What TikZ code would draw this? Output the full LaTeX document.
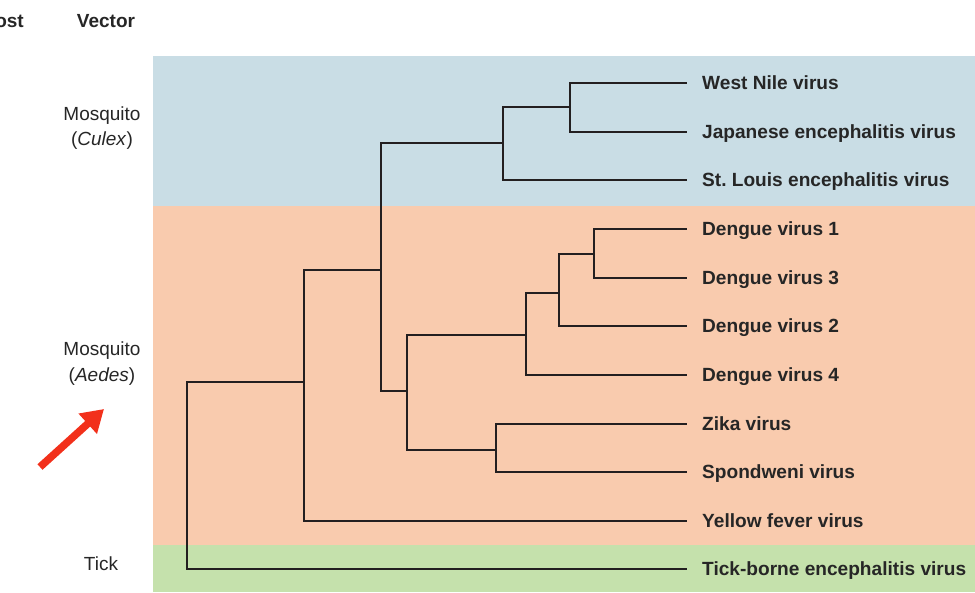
\documentclass[tikz,border=0pt]{standalone}
\usepackage{fontspec}
\setmainfont{Liberation Sans}
\usetikzlibrary{arrows.meta}
\definecolor{bandblue}{HTML}{C9DDE5}
\definecolor{bandorange}{HTML}{F9CBAE}
\definecolor{bandgreen}{HTML}{C5E1AC}
\definecolor{treeline}{HTML}{231F20}
\definecolor{arrowred}{HTML}{F2301B}
\definecolor{labelgray}{HTML}{262626}
\frenchspacing
\begin{document}
\begin{tikzpicture}[x=1pt,y=-1pt,
  leaf/.style={anchor=base west,inner sep=0pt,font=\fontsize{19.1}{21}\selectfont\bfseries,text=labelgray},
  side/.style={anchor=base,inner sep=0pt,font=\fontsize{19}{21}\selectfont,text=labelgray},
  head/.style={inner sep=0pt,font=\fontsize{19}{21}\selectfont\bfseries,text=labelgray},
  branch/.style={draw=treeline,line width=2.7pt,line cap=rect,line join=miter}]
\useasboundingbox (0,0) rectangle (975,592);
\clip (0,0) rectangle (975,592);
% bands
\fill[bandblue] (153,56) rectangle (975,206);
\fill[bandorange] (153,206) rectangle (975,545);
\fill[bandgreen] (153,545) rectangle (975,592);
% headers
\node[head,anchor=base east] (host) at (24,27) {Host};
\node[head,anchor=base] (vector) at (106,27) {Vector};
% side labels
\node[side] (m1) at (102,120) {Mosquito};
\node[side] (c1) at (102,145) {(\textit{Culex})};
\node[side] (m2) at (102,355) {Mosquito};
\node[side] (c2) at (102,381) {(\textit{Aedes})};
\node[side] (tick) at (101,570) {Tick};
% arrow
\coordinate (atail) at (40,467);
\coordinate (ahead) at (104,409);
\draw[arrowred,line width=7.5pt,-{Triangle[length=22pt,width=26pt]}] (atail) -- (ahead);
% leaf ends
\coordinate (wn) at (686,83);
\coordinate (je) at (686,132);
\coordinate (sle) at (686,180);
\coordinate (d1) at (686,229);
\coordinate (d3) at (686,278);
\coordinate (d2) at (686,326);
\coordinate (d4) at (686,375);
\coordinate (zk) at (686,424);
\coordinate (sp) at (686,472);
\coordinate (yf) at (686,521);
\coordinate (tbe) at (686,569);
% leaf labels
\node[leaf] (twn) at (702,89.7) {West Nile virus};
\node[leaf] (tje) at (702,138.7) {Japanese encephalitis virus};
\node[leaf] (tsle) at (702,186.7) {St.\ Louis encephalitis virus};
\node[leaf] (td1) at (702,235.7) {Dengue virus 1};
\node[leaf] (td3) at (702,284.7) {Dengue virus 3};
\node[leaf] (td2) at (702,332.7) {Dengue virus 2};
\node[leaf] (td4) at (702,381.7) {Dengue virus 4};
\node[leaf] (tzk) at (702,430.7) {Zika virus};
\node[leaf] (tsp) at (702,478.7) {Spondweni virus};
\node[leaf] (tyf) at (702,527.7) {Yellow fever virus};
\node[leaf] (ttbe) at (702,575.7) {Tick-borne encephalitis virus};
% internal nodes
\coordinate (root) at (187,382);
\coordinate (A) at (304,382);
\coordinate (B) at (381,270);
\coordinate (C) at (503,143);
\coordinate (WJ) at (570,107);
\coordinate (D) at (407,391);
\coordinate (E) at (526,335);
\coordinate (G) at (559,293);
\coordinate (H) at (594,254);
\coordinate (F) at (496,450);
% branches
\draw[branch] (root) |- (tbe);
\draw[branch] (root) -- (A);
\draw[branch] (A) |- (yf);
\draw[branch] (A) |- (B);
\draw[branch] (B) |- (C);
\draw[branch] (B) |- (D);
\draw[branch] (C) |- (WJ);
\draw[branch] (C) |- (sle);
\draw[branch] (WJ) |- (wn);
\draw[branch] (WJ) |- (je);
\draw[branch] (D) |- (E);
\draw[branch] (D) |- (F);
\draw[branch] (E) |- (G);
\draw[branch] (E) |- (d4);
\draw[branch] (G) |- (H);
\draw[branch] (G) |- (d2);
\draw[branch] (H) |- (d1);
\draw[branch] (H) |- (d3);
\draw[branch] (F) |- (zk);
\draw[branch] (F) |- (sp);
\end{tikzpicture}
\end{document}
